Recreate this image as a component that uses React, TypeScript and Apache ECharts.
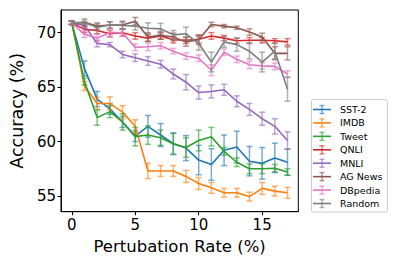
import React, { useEffect, useRef } from "react";
import * as echarts from "echarts";

const rates = [0, 1, 2, 3, 4, 5, 6, 7, 8, 9, 10, 11, 12, 13, 14, 15, 16, 17];
const seriesNames = ["SST-2", "IMDB", "Tweet", "QNLI", "MNLI", "AG News", "DBpedia", "Random"];
const colors = ["#1f77b4", "#ff7f0e", "#2ca02c", "#d62728", "#9467bd", "#8c564b", "#e377c2", "#7f7f7f"];

const sst2 = [70.9, 66.7, 63.9, 63.0, 61.8, 60.5, 61.4, 60.6, 59.8, 59.4, 58.3, 57.9, 59.2, 59.5, 58.2, 58.0, 58.5, 58.1];
const imdb = [70.9, 65.1, 63.5, 63.5, 62.7, 61.4, 57.3, 57.3, 57.3, 56.8, 56.15, 55.75, 55.3, 55.3, 54.95, 55.7, 55.45, 55.3];
const tweet = [70.9, 65.5, 62.2, 62.75, 61.8, 60.45, 60.6, 60.35, 59.8, 59.45, 60.1, 60.45, 59.1, 58.1, 57.5, 57.5, 57.55, 57.2];
const qnli = [70.9, 70.3, 70.2, 69.9, 70.0, 69.7, 69.5, 69.7, 69.35, 69.3, 69.4, 69.7, 69.5, 69.25, 69.3, 69.3, 69.25, 69.15];
const mnli = [70.9, 70.65, 69.0, 68.9, 68.0, 67.7, 67.4, 67.1, 66.2, 65.45, 64.5, 64.6, 64.75, 63.7, 62.95, 62.1, 61.4, 60.1];
const agNews = [70.9, 70.95, 70.6, 70.7, 70.7, 71.05, 69.6, 69.75, 69.6, 69.15, 69.35, 70.75, 70.6, 70.45, 70.05, 69.6, 68.1, 68.1];
const dbpedia = [70.9, 69.85, 69.5, 70.0, 70.0, 68.65, 68.7, 68.8, 68.3, 67.85, 67.65, 66.55, 68.2, 67.55, 67.05, 66.95, 66.9, 66.2];
const random = [70.9, 70.9, 70.5, 70.7, 70.65, 70.6, 70.4, 70.35, 69.8, 69.9, 69.0, 67.3, 69.15, 68.9, 68.3, 67.3, 68.3, 64.8];

const sst2Err = [0.15, 0.7, 0.7, 0.5, 0.5, 0.5, 1.0, 1.05, 1.0, 1.15, 1.35, 1.45, 1.4, 1.45, 1.35, 1.45, 1.35, 1.2];
const imdbErr = [0.15, 0.4, 0.55, 0.6, 0.6, 0.6, 0.7, 0.5, 0.5, 0.55, 0.55, 0.5, 0.4, 0.4, 0.4, 0.55, 0.45, 0.5];
const tweetErr = [0.15, 0.3, 0.7, 0.55, 0.75, 0.85, 0.85, 0.7, 0.95, 0.9, 0.95, 0.85, 0.35, 0.4, 0.45, 0.45, 0.35, 0.3];
const qnliErr = [0.15, 0.3, 0.3, 0.3, 0.3, 0.3, 0.3, 0.3, 0.3, 0.3, 0.35, 0.3, 0.25, 0.25, 0.25, 0.25, 0.2, 0.3];
const mnliErr = [0.15, 0.2, 0.3, 0.2, 0.3, 0.35, 0.4, 0.35, 0.45, 0.7, 0.6, 0.6, 0.5, 0.5, 0.55, 0.6, 0.7, 0.8];
const agNewsErr = [0.15, 0.3, 0.3, 0.3, 0.35, 0.35, 0.4, 0.35, 0.35, 0.4, 0.45, 0.2, 0.15, 0.15, 0.3, 0.35, 0.6, 0.6];
const dbpediaErr = [0.15, 0.3, 0.35, 0.35, 0.35, 0.3, 0.35, 0.3, 0.25, 0.3, 0.3, 0.5, 0.3, 0.3, 0.35, 0.3, 0.3, 0.3];
const randomErr = [0.15, 0.15, 0.3, 0.3, 0.3, 0.35, 0.5, 0.5, 0.4, 0.6, 0.6, 0.9, 0.5, 0.6, 0.7, 0.9, 0.7, 1.1];

const xTicks = [0, 5, 10, 15];
const yTicks = [55, 60, 65, 70];

const allValues = [sst2, imdb, tweet, qnli, mnli, agNews, dbpedia, random];
const allErrors = [sst2Err, imdbErr, tweetErr, qnliErr, mnliErr, agNewsErr, dbpediaErr, randomErr];

const FONT = "DejaVu Sans";

export default function App() {
  const ref = useRef<HTMLDivElement>(null);
  useEffect(() => {
    if (!ref.current) return;
    const chart = echarts.init(ref.current, undefined, { renderer: "svg" });
    const series: any[] = [];
    seriesNames.forEach((name, i) => {
      const color = colors[i];
      series.push({
        type: "line",
        name,
        data: rates.map((r, k) => [r, allValues[i][k]]),
        showSymbol: false,
        lineStyle: { color, width: 1.6 },
        itemStyle: { color },
        z: 2 + i,
      });
      series.push({
        type: "custom",
        name: name + " err",
        data: rates.map((r, k) => [r, allValues[i][k] - allErrors[i][k], allValues[i][k] + allErrors[i][k]]),
        encode: { x: 0, y: [1, 2] },
        z: 2 + i,
        renderItem: (params: any, api: any) => {
          const x = api.value(0);
          const top = api.coord([x, api.value(2)]);
          const bot = api.coord([x, api.value(1)]);
          const w = 3;
          const st = { stroke: color, lineWidth: 1.5, opacity: 0.6 };
          return {
            type: "group",
            children: [
              { type: "line", shape: { x1: top[0], y1: top[1], x2: bot[0], y2: bot[1] }, style: st },
              { type: "line", shape: { x1: top[0] - w, y1: top[1], x2: top[0] + w, y2: top[1] }, style: st },
              { type: "line", shape: { x1: bot[0] - w, y1: bot[1], x2: bot[0] + w, y2: bot[1] }, style: st },
            ],
          };
        },
      });
    });

    const legendX = 311.5;
    const legendY = 99.5;
    const rowH = 13.43;
    const graphics: any[] = [
      {
        type: "rect",
        shape: { x: legendX, y: legendY, width: 76, height: 112.5, r: 2 },
        style: { fill: "rgba(255,255,255,0.8)", stroke: "#cccccc", lineWidth: 1 },
        z: 100,
      },
    ];
    seriesNames.forEach((name, i) => {
      const cy = legendY + 10 + i * rowH;
      const c = colors[i];
      const st = { stroke: c, lineWidth: 1.5, opacity: 0.6 };
      graphics.push(
        { type: "line", shape: { x1: 313, y1: cy, x2: 331, y2: cy }, style: { stroke: c, lineWidth: 1.6 }, z: 101 },
        { type: "line", shape: { x1: 322, y1: cy - 4, x2: 322, y2: cy + 4 }, style: st, z: 101 },
        { type: "line", shape: { x1: 319.5, y1: cy - 4, x2: 324.5, y2: cy - 4 }, style: st, z: 101 },
        { type: "line", shape: { x1: 319.5, y1: cy + 4, x2: 324.5, y2: cy + 4 }, style: st, z: 101 },
        {
          type: "text",
          x: 340,
          y: cy,
          style: { text: name, fill: "#000", font: `9.5px "${FONT}"`, verticalAlign: "middle", align: "left" },
          z: 101,
        }
      );
    });

    chart.setOption({
      animation: false,
      grid: {
        left: 55.3,
        top: 10,
        right: 100.7,
        bottom: 54.3,
        show: true,
        borderColor: "#000",
        borderWidth: 1,
        backgroundColor: "transparent",
      },
      xAxis: {
        type: "value",
        min: -0.85,
        max: 17.85,
        name: "Pertubation Rate (%)",
        nameLocation: "middle",
        nameGap: 25,
        nameTextStyle: { fontFamily: FONT, fontSize: 16.5, color: "#000" },
        axisLine: { show: true, onZero: false, lineStyle: { color: "#000", width: 1 } },
        axisTick: { show: true, inside: false, length: 3.5, lineStyle: { color: "#000" }, customValues: xTicks },
        axisLabel: { fontFamily: FONT, fontSize: 15, color: "#000", margin: 6, customValues: xTicks },
        splitLine: { show: false },
      },
      yAxis: {
        type: "value",
        min: 53.56,
        max: 72.08,
        name: "Accuracy (%)",
        nameLocation: "middle",
        nameGap: 30,
        nameTextStyle: { fontFamily: FONT, fontSize: 17.5, color: "#000" },
        axisLine: { show: true, onZero: false, lineStyle: { color: "#000", width: 1 } },
        axisTick: { show: true, inside: false, length: 3.5, lineStyle: { color: "#000" }, customValues: yTicks },
        axisLabel: { fontFamily: FONT, fontSize: 15, color: "#000", margin: 5, customValues: yTicks },
        splitLine: { show: false },
      },
      series,
      graphic: graphics,
    });
    return () => chart.dispose();
  }, []);
  return <div ref={ref} style={{ position: "fixed", left: 0, top: 0, width: 399, height: 266, background: "#fff" }} />;
}
